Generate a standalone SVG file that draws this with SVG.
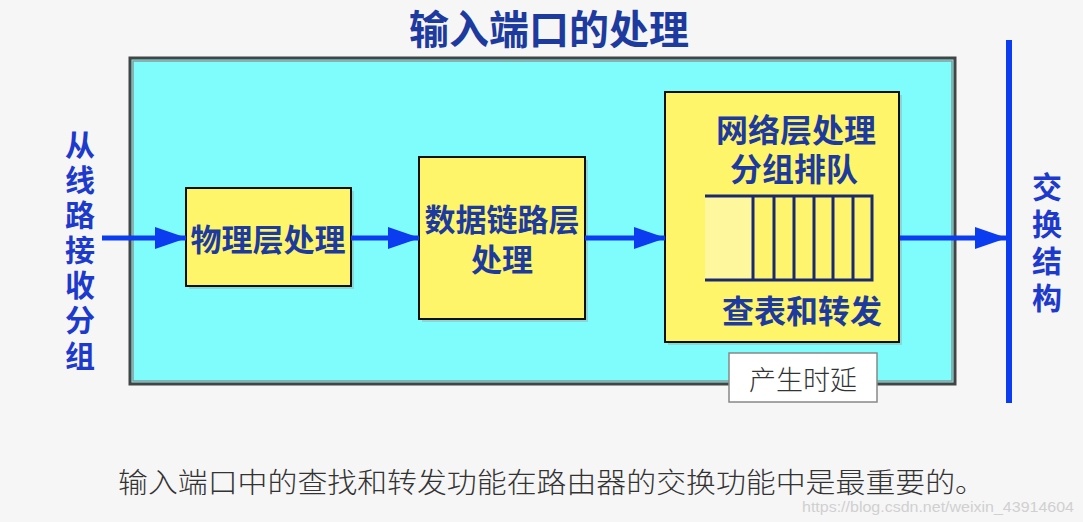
<svg xmlns="http://www.w3.org/2000/svg" width="1083" height="522" viewBox="0 0 1083 522">
<defs>
<marker id="ah" markerUnits="userSpaceOnUse" markerWidth="32" markerHeight="24" refX="31" refY="12" orient="auto">
<polygon points="0,1 32,12 0,23" fill="#0b3cf0"/>
</marker>
<style>
.blk{fill:#fff56a;stroke:#111;stroke-width:2}
.shd{fill:#9aa;opacity:0.45}
.lbl{font-family:"Noto Sans CJK SC",sans-serif;font-weight:bold;fill:#1d3a9e;text-anchor:middle;dominant-baseline:central}
.side{font-family:"Noto Sans CJK SC",sans-serif;font-weight:bold;fill:#1d3acc;text-anchor:middle;font-size:30px;dominant-baseline:central}
.conn{stroke:#0b3cf0;stroke-width:5;fill:none;marker-end:url(#ah)}
.q{stroke:#1a2a6e;stroke-width:3;fill:none}
</style>
</defs>
<rect width="1083" height="522" fill="#f6f6f6"/>
<text x="549" y="27" class="lbl" font-size="40" fill="#1a3aa8">输入端口的处理</text>
<g id="port">
<rect x="130" y="58" width="825" height="326" fill="#7ffcfc" stroke="#444" stroke-width="3"/>
<rect x="133" y="61" width="819" height="320" fill="none" stroke="#8a9a9a" stroke-width="1.5"/>
</g>
<g id="recv">
<text class="side" x="80" y="143">从</text>
<text class="side" x="80" y="178">线</text>
<text class="side" x="80" y="213">路</text>
<text class="side" x="80" y="248">接</text>
<text class="side" x="80" y="283">收</text>
<text class="side" x="80" y="318">分</text>
<text class="side" x="80" y="354">组</text>
</g>
<g id="phy">
<rect class="shd" x="189" y="191" width="165" height="98"/>
<rect class="blk" x="186" y="188" width="165" height="98"/>
<text class="lbl" x="268" y="237" font-size="31">物理层处理</text>
</g>
<g id="dll">
<rect class="shd" x="422" y="160" width="166" height="162"/>
<rect class="blk" x="419" y="157" width="166" height="162"/>
<text class="lbl" x="502" y="217" font-size="31">数据链路层</text>
<text class="lbl" x="502" y="257" font-size="31">处理</text>
</g>
<g id="net">
<rect class="shd" x="668" y="95" width="234" height="250"/>
<rect class="blk" x="665" y="92" width="234" height="250"/>
<text class="lbl" x="796" y="128" font-size="32">网络层处理</text>
<text class="lbl" x="794" y="167" font-size="32">分组排队</text>
<rect x="705" y="196" width="48" height="84" fill="#fff79e"/>
<rect x="753" y="196" width="119" height="84" fill="#fff46e"/>
<path class="q" d="M705,196 H872 V280 H705 M753,196 V280 M774,196 V280 M794,196 V280 M814,196 V280 M833,196 V280 M853,196 V280"/>
<text class="lbl" x="802" y="309" font-size="32">查表和转发</text>
</g>
<g id="delay">
<rect x="729" y="353" width="148" height="49" fill="#fff" stroke="#888" stroke-width="1.5"/>
<text x="803" y="378" font-family="'Noto Sans CJK SC',sans-serif" font-weight="300" font-size="27" fill="#333" text-anchor="middle" dominant-baseline="central">产生时延</text>
</g>
<g id="fabric">
<rect x="1006" y="40" width="6" height="363" fill="#0b3cf0"/>
<text class="side" x="1047" y="185">交</text>
<text class="side" x="1047" y="222">换</text>
<text class="side" x="1047" y="259">结</text>
<text class="side" x="1047" y="296">构</text>
</g>
<g id="connectors">
<line class="conn" x1="102" y1="238" x2="186" y2="238"/>
<line class="conn" x1="351" y1="238" x2="419" y2="238"/>
<line class="conn" x1="585" y1="238" x2="665" y2="238"/>
<line class="conn" x1="900" y1="238" x2="1006" y2="238"/>
</g>
<text x="118" y="481" font-family="'Noto Sans CJK SC',sans-serif" font-weight="300" font-size="28" fill="#333" dominant-baseline="central" textLength="867" lengthAdjust="spacingAndGlyphs">输入端口中的查找和转发功能在路由器的交换功能中是最重要的。</text>
<text x="802" y="512" font-family="'Liberation Sans',sans-serif" font-size="14" fill="#d0d0d0" textLength="272" lengthAdjust="spacingAndGlyphs">https://blog.csdn.net/weixin_43914604</text>
</svg>
